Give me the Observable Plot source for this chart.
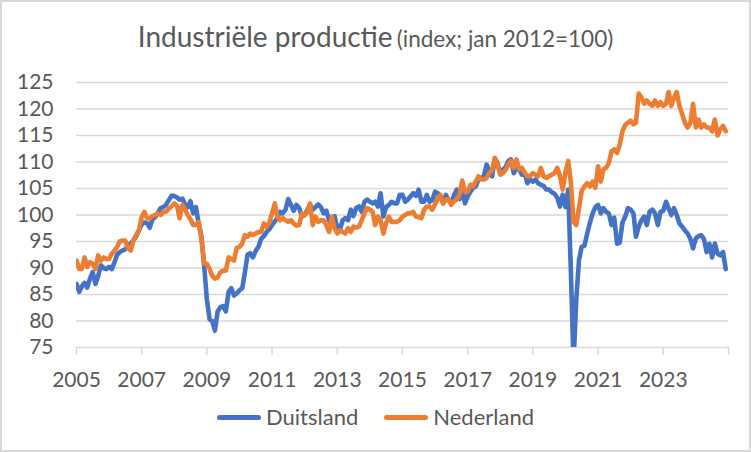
<!DOCTYPE html>
<html><head><meta charset="utf-8">
<script src="https://cdn.jsdelivr.net/npm/d3@7"></script>
<script src="https://cdn.jsdelivr.net/npm/@observablehq/plot@0.6"></script>
<style>
html,body{margin:0;padding:0;background:#fff;}
#chart{position:relative;width:751px;height:452px;background:#fff;font-family:Lato,sans-serif;color:#595959;overflow:hidden;}
#title{position:absolute;left:0;top:22px;width:751px;text-align:center;line-height:1;white-space:nowrap;}
#title .main{font-size:28px;}
#title .sub{font-size:22.5px;}
#plot{position:absolute;left:0;top:70px;}
#legend{position:absolute;left:0;top:405px;width:751px;display:flex;justify-content:center;align-items:center;font-size:22px;line-height:24px;}
.item{display:flex;align-items:center;margin:0 13px;}
.sw{width:44px;height:5px;border-radius:3px;margin-right:5px;}
#border{position:absolute;left:0;top:0;right:0;bottom:0;border:2px solid #d9d9d9;pointer-events:none;}
</style></head>
<body>
<div id="chart">
  <div id="title"><span class="main">Industriële productie</span> <span class="sub">(index; jan 2012=100)</span></div>
  <div id="plot"></div>
  <div id="legend"></div>
  <div id="border"></div>
</div>
<script>
const startYear = 2005;
const seriesNames = ["Duitsland", "Nederland"];
const seriesColors = ["#4472C4", "#ED7D31"];
const yTicks = [75, 80, 85, 90, 95, 100, 105, 110, 115, 120, 125];
const xTickYears = [2005, 2007, 2009, 2011, 2013, 2015, 2017, 2019, 2021, 2023, 2025];
const xTickLabels = ["2005", "2007", "2009", "2011", "2013", "2015", "2017", "2019", "2021", "2023", ""];

// monthly values, jan 2005 .. dec 2024
const duitsland = [
  87.0, 85.5, 86.5, 87.2, 86.3, 88.0, 89.2, 87.0, 88.5, 90.5, 90.0, 89.8,
  90.2, 89.8, 91.0, 92.5, 93.0, 93.3, 93.5, 94.2, 94.7, 95.2, 96.0, 97.1,
  98.2, 98.6, 98.5, 97.6, 99.2, 99.6, 100.4, 101.3, 101.5, 101.9, 102.8, 103.6,
  103.6, 103.3, 102.9, 103.1, 102.0, 101.5, 102.6, 100.3, 101.5, 98.3, 96.0, 90.5,
  84.0, 80.3, 80.0, 78.2, 81.8, 82.6, 82.8, 81.8, 85.5, 86.2, 84.8, 85.2,
  85.8, 86.2, 89.0, 92.5, 92.8, 92.0, 93.2, 94.0, 95.5, 96.0, 96.8, 97.3,
  98.1, 98.8, 99.4, 100.6, 100.3, 101.0, 103.0, 101.9, 100.8, 101.9, 101.3, 99.8,
  100.0, 101.0, 101.9, 101.0, 101.5, 102.0, 101.5, 100.3, 100.8, 99.0, 98.3, 99.8,
  97.5, 97.3, 99.0, 99.4, 99.0, 101.0, 99.8, 101.3, 101.6, 100.6, 102.5, 102.9,
  102.5, 102.2, 102.5, 101.6, 104.1, 99.7, 101.5, 101.9, 102.5, 102.2, 102.2, 103.8,
  103.8, 102.5, 102.9, 103.5, 104.1, 103.6, 104.8, 102.5, 102.5, 103.8, 102.5, 102.8,
  104.4, 104.1, 103.5, 102.2, 103.8, 102.8, 102.2, 103.8, 104.8, 103.0, 104.8, 102.2,
  103.5, 104.4, 105.1, 105.4, 106.7, 107.0, 107.3, 109.5, 108.3, 107.3, 110.6, 109.8,
  107.9, 108.6, 109.0, 110.2, 110.5, 107.9, 108.8, 108.6, 107.6, 107.9, 106.0, 106.7,
  106.3, 106.7, 106.0, 105.7, 105.5, 104.8, 104.8, 104.3, 104.0, 103.3, 101.6, 103.8,
  101.5, 104.8, 90.0, 72.0, 84.0, 91.5, 94.0, 94.2, 96.5, 98.5, 100.3, 101.5,
  101.9, 100.3, 101.3, 100.6, 100.3, 98.1, 99.5, 94.6, 94.8, 98.6, 99.7, 101.3,
  101.0, 100.3, 95.9, 97.8, 99.0, 99.7, 98.1, 100.6, 101.0, 100.3, 98.1, 100.6,
  100.8, 102.5, 101.3, 100.0, 101.3, 100.0, 98.4, 97.8, 97.1, 96.5, 95.5, 93.7,
  95.6, 96.0, 96.2, 95.5, 93.0, 94.6, 92.0, 94.6, 92.7, 92.4, 93.0, 89.8
];
const nederland = [
  91.4, 89.8, 89.8, 92.0, 90.2, 91.1, 90.8, 89.8, 92.4, 91.4, 92.0, 91.7,
  91.7, 92.7, 93.2, 94.0, 95.0, 95.2, 95.2, 93.7, 93.3, 95.2, 96.2, 97.1,
  99.6, 100.6, 99.4, 99.4, 99.8, 100.0, 100.3, 100.0, 100.6, 100.6, 101.2, 101.6,
  102.2, 101.8, 99.4, 101.9, 101.0, 100.0, 99.2, 98.1, 98.1, 98.7, 95.5, 90.8,
  90.8, 89.8, 88.5, 88.0, 88.2, 89.2, 89.5, 89.5, 92.0, 91.7, 91.4, 93.8,
  94.0, 94.6, 96.2, 95.9, 96.5, 96.2, 96.5, 96.8, 96.8, 98.4, 97.8, 98.5,
  100.3, 102.2, 99.7, 99.0, 99.4, 99.0, 98.7, 99.0, 98.4, 98.0, 98.1, 100.3,
  100.0, 100.6, 102.2, 98.1, 99.7, 98.7, 99.0, 99.0, 98.1, 96.8, 99.7, 97.5,
  96.5, 97.1, 96.8, 96.5, 97.5, 96.8, 97.8, 97.6, 97.8, 99.0, 100.3, 101.3,
  101.0, 100.6, 98.1, 99.7, 99.0, 96.5, 98.4, 99.7, 98.7, 98.7, 98.7, 99.0,
  99.7, 100.0, 100.3, 100.3, 100.6, 99.7, 99.6, 99.4, 101.0, 101.6, 101.6, 101.0,
  102.0, 103.2, 103.8, 102.2, 102.9, 103.0, 101.9, 102.6, 102.9, 103.8, 106.5, 104.4,
  104.4, 105.7, 105.4, 106.3, 107.3, 106.7, 106.7, 107.0, 107.9, 108.5, 110.8, 109.5,
  107.6, 107.9, 108.5, 109.5, 110.2, 108.9, 110.5, 108.6, 108.9, 108.0, 107.3, 107.3,
  107.9, 107.6, 107.3, 108.9, 107.3, 107.0, 107.3, 107.6, 107.9, 108.9, 107.3, 104.8,
  108.0, 110.2, 106.3, 98.7, 98.1, 101.3, 104.5, 105.4, 106.0, 105.4, 106.3, 105.1,
  109.2, 106.3, 108.6, 108.9, 109.8, 112.0, 112.4, 111.7, 113.3, 115.8, 117.0, 117.4,
  117.8, 117.1, 117.4, 122.9, 122.2, 121.0, 121.6, 121.0, 120.6, 121.6, 120.6, 121.3,
  120.6, 121.0, 123.2, 120.6, 122.1, 123.2, 120.6, 119.0, 117.4, 116.5, 117.4, 121.0,
  116.5, 118.0, 116.5, 117.1, 116.5, 116.5, 115.8, 118.0, 115.0, 116.2, 116.8, 115.8
];

const seriesValues = [duitsland, nederland];
const rows = [];
seriesNames.forEach((name, k) => {
  seriesValues[k].forEach((v, i) => rows.push({series: name, date: new Date(Date.UTC(startYear, i, 1)), value: v}));
});
const xTicks = xTickYears.map(y => new Date(Date.UTC(y, 0, 1)));
const labelOf = new Map(xTickYears.map((y, i) => [y, xTickLabels[i]]));

const chart = Plot.plot({
  width: 751,
  height: 330,
  marginLeft: 76,
  marginRight: 23,
  marginTop: 12,
  marginBottom: 53,
  style: {fontFamily: "Lato, sans-serif", fontSize: "21px", color: "#595959", background: "transparent", overflow: "visible"},
  x: {type: "utc", domain: [xTicks[0], xTicks[xTicks.length - 1]]},
  y: {domain: [yTicks[0], yTicks[yTicks.length - 1]]},
  marks: [
    Plot.gridY(yTicks, {stroke: "#d9d9d9", strokeOpacity: 1, strokeWidth: 1.5}),
    Plot.axisY(yTicks, {tickSize: 0, tickPadding: 23, fill: "#595959", fontSize: 21, label: null, tickFormat: d => String(d)}),
    Plot.axisX(xTicks, {tickSize: 8, tickPadding: 17, stroke: "#d9d9d9", strokeWidth: 1.5, strokeOpacity: 1, fill: "#595959", fontSize: 21, label: null, tickFormat: d => labelOf.get(d.getUTCFullYear())}),
    ...seriesNames.map((name, k) => Plot.lineY(rows.filter(d => d.series === name), {
      x: "date", y: "value", stroke: seriesColors[k], strokeWidth: 4.6, strokeLinejoin: "round", strokeLinecap: "round", clip: true
    }))
  ]
});
document.getElementById("plot").appendChild(chart);

const legend = document.getElementById("legend");
seriesNames.forEach((name, k) => {
  const item = document.createElement("div");
  item.className = "item";
  const sw = document.createElement("div");
  sw.className = "sw";
  sw.style.background = seriesColors[k];
  const label = document.createElement("span");
  label.textContent = name;
  item.appendChild(sw);
  item.appendChild(label);
  legend.appendChild(item);
});
</script>
</body></html>
